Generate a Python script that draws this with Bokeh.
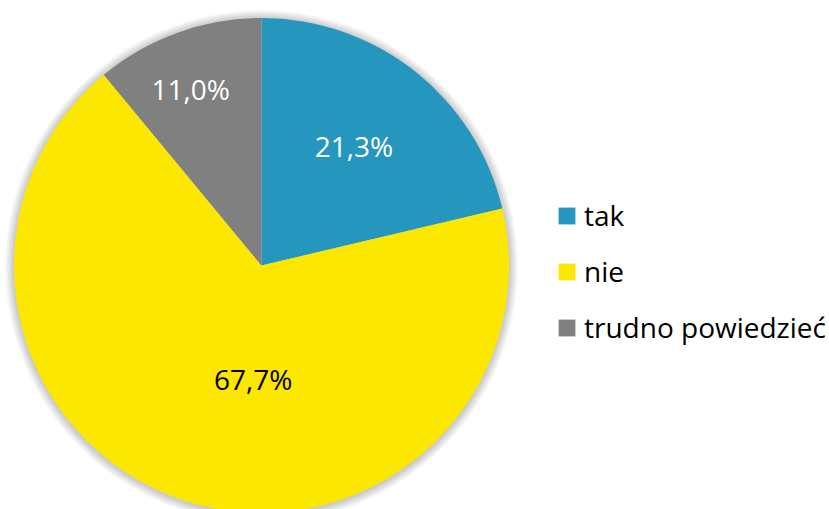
import math
from bokeh.plotting import figure
from bokeh.models import ColumnDataSource, Legend, LegendItem, Range1d
from bokeh.core.properties import value
from bokeh.embed import file_html
from bokeh.resources import INLINE

# ---- data ----
categories = ["tak", "nie", "trudno powiedzieć"]
shares = [21.3, 67.7, 11.0]
labels = ["21,3%", "67,7%", "11,0%"]
colors = ["#2596BE", "#FBE700", "#808080"]
label_colors = ["white", "black", "white"]

# ---- layout (screen-unit figure) ----
W, H = 829, 509
cx, cy, R = 261, 244, 247.5
label_r = [0.61, 0.46, 0.77]          # label distance as fraction of radius
label_shift = [0.01, 0.25, 0.035]     # angle tweak (radians) to mimic best-fit placement

total = sum(shares)
starts, ends, lx, ly = [], [], [], []
cum = 0.0
for i, s in enumerate(shares):
    a0 = math.pi / 2 - 2 * math.pi * cum / total
    cum += s
    a1 = math.pi / 2 - 2 * math.pi * cum / total
    starts.append(a0)
    ends.append(a1)
    mid = (a0 + a1) / 2 + label_shift[i]
    lx.append(cx + label_r[i] * R * math.cos(mid))
    ly.append(cy + label_r[i] * R * math.sin(mid))

src = ColumnDataSource(dict(cat=categories, start=starts, end=ends, color=colors,
                            lab=labels, lx=lx, ly=ly, lc=label_colors))

p = figure(width=W, height=H, output_backend="svg", toolbar_location=None,
           x_range=Range1d(0, W), y_range=Range1d(0, H), min_border=0,
           outline_line_color=None)
p.axis.visible = False
p.grid.visible = False

# soft outer shadow
for k in range(1, 10):
    p.circle(x=cx, y=cy - 1, radius=R + k, fill_color="black",
             fill_alpha=0.022, line_color=None)

w = p.wedge(x=cx, y=cy, radius=R, start_angle="start", end_angle="end",
            direction="clock", fill_color="color", line_color=None, source=src)

p.text(x="lx", y="ly", text="lab", text_color="lc", source=src,
       text_align="center", text_baseline="middle",
       text_font=value("Open Sans"), text_font_size="28px")

items = [LegendItem(label=c, renderers=[w], index=i) for i, c in enumerate(categories)]
legend = Legend(items=items, location=(556, 163), padding=0, margin=0,
                border_line_color=None, background_fill_alpha=0,
                glyph_width=21, glyph_height=21, label_standoff=7,
                label_text_font="Open Sans", label_text_font_size="28px",
                label_text_color="black", spacing=18, label_height=17)
p.add_layout(legend, "center")

open("out.html", "w").write(file_html(p, INLINE))
